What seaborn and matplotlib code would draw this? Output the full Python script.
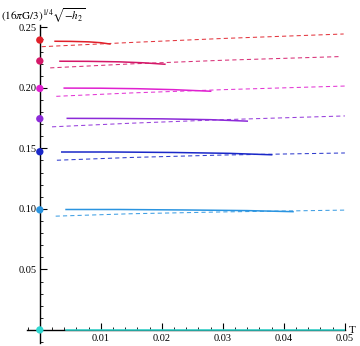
import numpy as np
import pandas as pd
import seaborn as sns
import matplotlib.pyplot as plt
from matplotlib.ticker import MultipleLocator

# values
colors = ["#e0202a", "#d41868", "#e020d0", "#8c2ad8", "#1a28c8", "#2a94e0", "#30d8d0"]
y_at_zero = [0.2395, 0.2222, 0.1995, 0.1745, 0.1472, 0.0992, 0.0]

solid_T = [
    [0.0025, 0.005, 0.008, 0.010, 0.0115],
    [0.0033, 0.008, 0.013, 0.017, 0.0205],
    [0.0040, 0.010, 0.016, 0.022, 0.0280],
    [0.0045, 0.012, 0.020, 0.028, 0.0340],
    [0.0036, 0.012, 0.022, 0.031, 0.0380],
    [0.0043, 0.013, 0.024, 0.034, 0.0415],
    [0.0043, 0.015, 0.030, 0.042, 0.0500],
]
solid_h = [
    [0.2385, 0.2384, 0.2380, 0.2373, 0.2362],
    [0.2220, 0.2219, 0.2215, 0.2207, 0.2195],
    [0.1998, 0.1997, 0.1993, 0.1985, 0.1972],
    [0.1748, 0.1747, 0.1744, 0.1737, 0.1725],
    [0.1470, 0.1470, 0.1466, 0.1459, 0.1447],
    [0.0995, 0.0995, 0.0991, 0.0986, 0.0977],
    [0.0, 0.0, 0.0, 0.0, 0.0],
]
dashed_T = [
    [0.0003, 0.015, 0.030, 0.0498],
    [0.0017, 0.015, 0.030, 0.0490],
    [0.0027, 0.015, 0.030, 0.0500],
    [0.0020, 0.015, 0.030, 0.0500],
    [0.0028, 0.015, 0.030, 0.0500],
    [0.0026, 0.015, 0.030, 0.0500],
]
dashed_h = [
    [0.2340, 0.2375, 0.2408, 0.2445],
    [0.2165, 0.2198, 0.2228, 0.2258],
    [0.1930, 0.1958, 0.1985, 0.2015],
    [0.1678, 0.1708, 0.1737, 0.1768],
    [0.1402, 0.1425, 0.1445, 0.1462],
    [0.0940, 0.0960, 0.0975, 0.0990],
]

plt.rcParams["font.family"] = ["Liberation Serif", "DejaVu Serif"]
plt.rcParams["mathtext.fontset"] = "stix"

fig = plt.figure(figsize=(3.6, 3.46), dpi=100)
ax = fig.add_axes([0.075, 0.009, 0.883, 0.919])

for i, c in enumerate(colors):
    sns.lineplot(x=solid_T[i], y=solid_h[i], color=c, lw=1.1, sort=False,
                 estimator=None, ax=ax, zorder=4)
    if i < len(dashed_T):
        sns.lineplot(x=dashed_T[i], y=dashed_h[i], color=c, lw=0.75, sort=False,
                     estimator=None, ax=ax, linestyle=(0, (4, 3)), alpha=0.9)

pts = pd.DataFrame({"T": [0.0] * len(y_at_zero), "h": y_at_zero, "c": colors})
sns.scatterplot(data=pts, x="T", y="h", hue="c", palette=colors, legend=False,
                s=28, edgecolor="none", ax=ax, zorder=5, clip_on=False)

ax.set_xlim(-0.0021, 0.05)
ax.set_ylim(-0.0107, 0.252)
ax.spines["left"].set_position(("data", 0))
ax.spines["bottom"].set_position(("data", 0))
ax.spines["top"].set_visible(False)
ax.spines["right"].set_visible(False)
for s in ["left", "bottom"]:
    ax.spines[s].set_linewidth(1.0)
    ax.spines[s].set_zorder(3)

ax.xaxis.set_major_locator(MultipleLocator(0.01))
ax.xaxis.set_minor_locator(MultipleLocator(0.002))
ax.yaxis.set_major_locator(MultipleLocator(0.05))
ax.yaxis.set_minor_locator(MultipleLocator(0.01))
ax.set_xticks([0.01, 0.02, 0.03, 0.04, 0.05])
ax.set_yticks([0.05, 0.10, 0.15, 0.20, 0.25])
ax.set_xticklabels(["0.01", "0.02", "0.03", "0.04", "0.05"])
ax.set_yticklabels(["0.05", "0.10", "0.15", "0.20", "0.25"])
ax.tick_params(axis="x", which="major", direction="in", length=5, width=0.8, labelsize=7.5, pad=3)
ax.tick_params(axis="x", which="minor", direction="in", length=2.5, width=0.6)
ax.tick_params(axis="y", which="major", direction="in", length=5, width=0.8, labelsize=7.5, pad=2)
ax.tick_params(axis="y", which="minor", direction="in", length=2.5, width=0.6)

ax.set_xlabel("")
ax.set_ylabel("")
fig.text(0.003, 0.955, r"$(16\pi\mathrm{G}/3)^{1/4}\sqrt{-h_2}$", fontsize=8,
         ha="left", va="center")
fig.text(0.968, 0.046, "T", fontsize=8, ha="left", va="center")

fig.savefig("out.png", dpi=100)
